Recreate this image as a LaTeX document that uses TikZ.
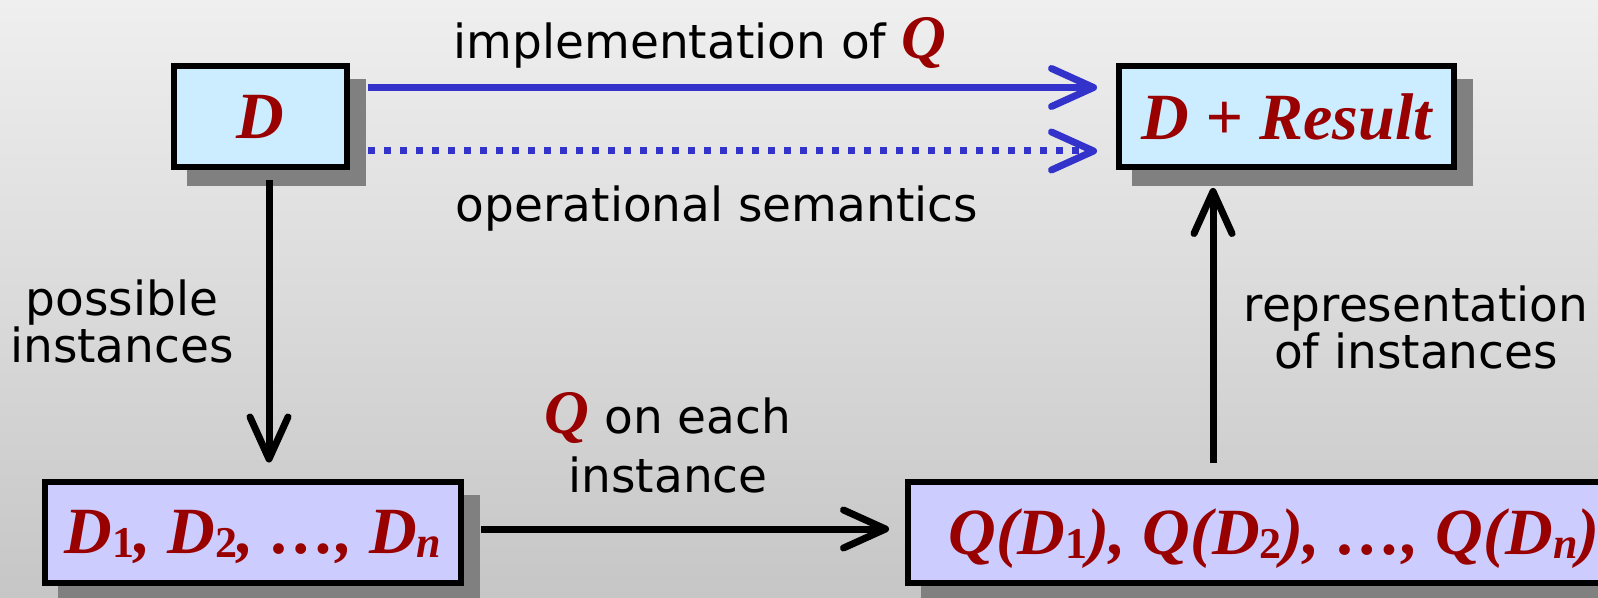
\documentclass[tikz,border=0pt]{standalone}
\usepackage{fontspec}
\setmainfont{DejaVu Sans}
\newfontfamily\timesbi{Liberation Serif}
\usetikzlibrary{arrows.meta,shadows}
\definecolor{dred}{RGB}{153,0,0}
\definecolor{boxcyan}{RGB}{204,236,255}
\definecolor{boxlav}{RGB}{204,204,255}
\definecolor{arrblue}{RGB}{51,51,204}
\definecolor{shad}{RGB}{128,128,128}
\definecolor{bgtop}{RGB}{239,239,239}
\definecolor{bgbot}{RGB}{198,198,198}
\newcommand\mth{\timesbi\bfseries\itshape\color{dred}}
\newcommand\qq{{\fontsize{31}{31}\selectfont\mth Q}}
\newcommand\low[1]{\raisebox{-2pt}{\fontsize{22}{22}\selectfont #1}}
\begin{document}
\begin{tikzpicture}[x=0.5pt,y=-0.5pt,
  box/.style={draw,line width=3pt,inner sep=0pt,minimum height=50.5pt,text depth=0pt,
    font=\timesbi\bfseries\itshape\fontsize{33}{36}\selectfont,text=dred,
    drop shadow={shadow xshift=8pt,shadow yshift=-8pt,fill=shad,draw=shad,line width=3pt,opacity=1}},
  lbl/.style={font=\fontsize{23.5}{23.5}\selectfont,align=center,inner sep=0pt},
  barb/.style={line width=3.5pt,-{Straight Barb[length=21pt,width=19pt,line cap=round,line join=round]}}]
\useasboundingbox (0,0) rectangle (1598,598);
\shade[top color=bgtop,bottom color=bgbot] (0,0) rectangle (1598,598);
% boxes
\node[box,fill=boxcyan,minimum width=86.5pt] (D) at (260.5,116.5) {D};
\node[box,fill=boxcyan,minimum width=167.5pt] (Res) at (1286.5,116.5) {D + Result};
\node[box,fill=boxlav,minimum width=208pt] (Dset) at (253,532)
  {D\low{\upshape 1}, D\low{\upshape 2}, …, D\low{n}};
\node[box,fill=boxlav,minimum width=366pt] (QD) at (1274,532)
  {Q(D\low{\upshape 1}), Q(D\low{\upshape 2}), …, Q(D\low{n})};
% labels
\node[lbl,anchor=base] (impl) at (700,59) {implementation of \qq};
\node[lbl,anchor=base] (opsem) at (717,222) {operational semantics};
\node[lbl] (poss) at (122,321) {possible\\instances};
\node[lbl] (each) at (668,443) {\qq{} on each\\[6pt]instance};
\node[lbl] (repr) at (1416,327) {representation\\of instances};
% arrows
\draw[barb,arrblue] ([shift={(9pt,14.5pt)}]D.east) -- ([shift={(-9.5pt,14.5pt)}]Res.west);
\draw[barb,arrblue,dash pattern=on 3.5pt off 4.5pt] ([shift={(9pt,-17.25pt)}]D.east) -- ([shift={(-9.5pt,-17.25pt)}]Res.west);
\draw[barb] ([shift={(4.25pt,-5pt)}]D.south) -- ([shift={(8pt,8pt)}]Dset.north);
\draw[barb] ([shift={(8.5pt,1.5pt)}]Dset.east) -- ([shift={(-8pt,1.5pt)}]QD.west);
\draw[barb] ([shift={(-30.5pt,8pt)}]QD.north) -- ([shift={(-36.75pt,-9pt)}]Res.south);
\end{tikzpicture}
\end{document}
